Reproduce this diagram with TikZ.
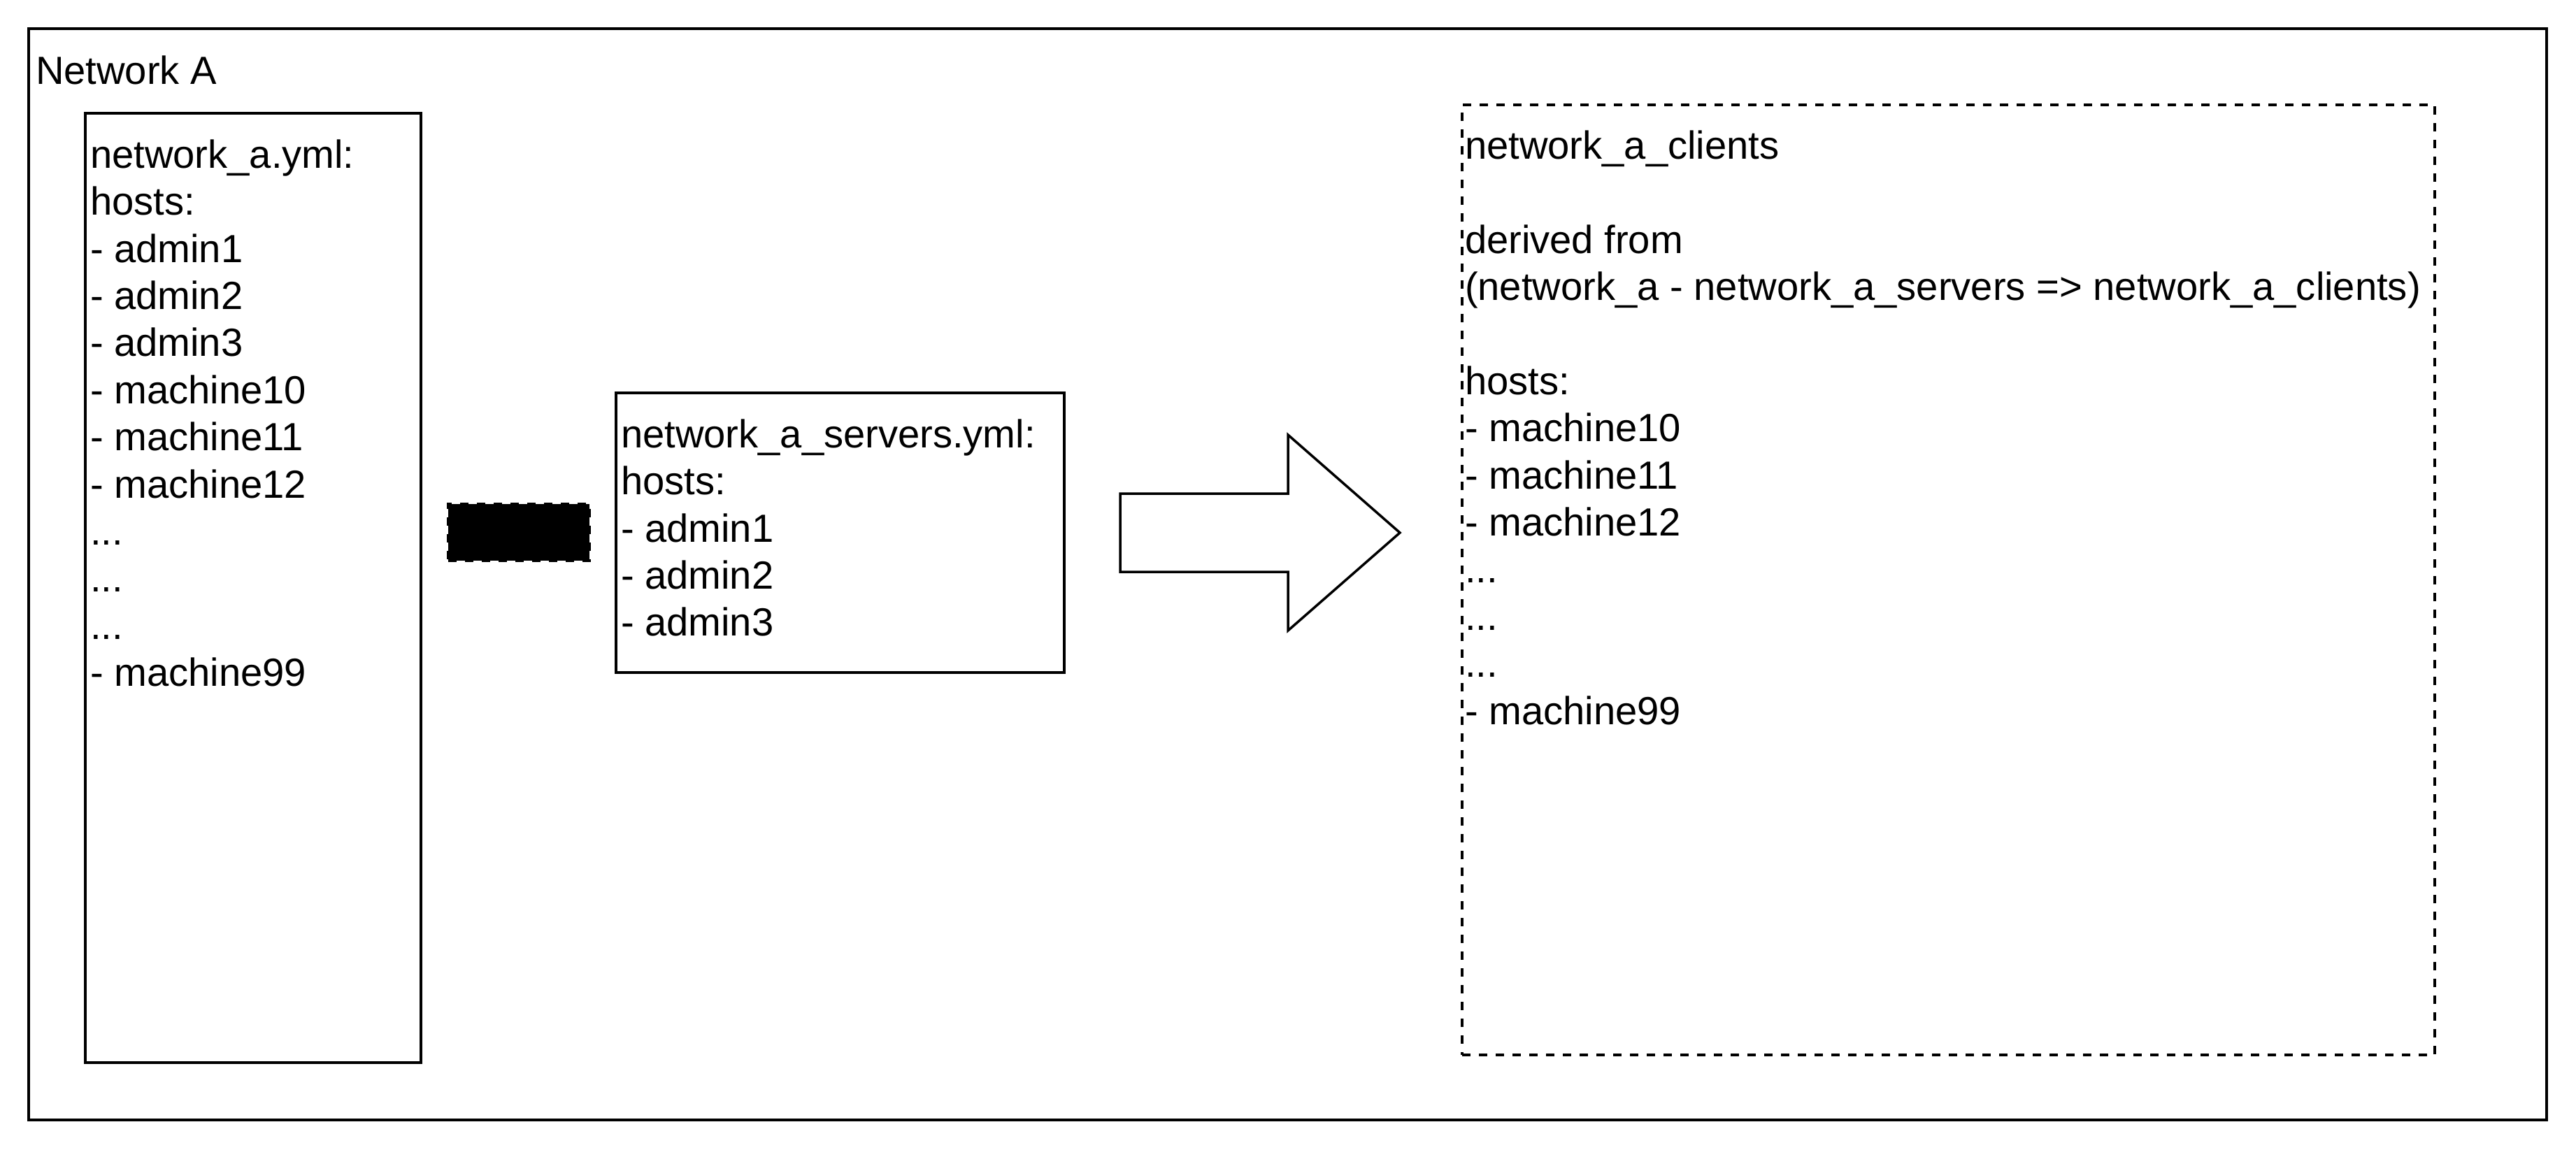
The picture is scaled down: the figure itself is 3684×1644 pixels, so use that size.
\documentclass[tikz,border=0pt]{standalone}
\usepackage{fontspec}
\setmainfont{Liberation Sans}
\begin{document}
\begin{tikzpicture}[x=0.2pt,y=-0.2pt,
  frame/.style={draw=black, line width=0.7pt, anchor=north west, inner sep=0pt, outer sep=0pt},
  dashframe/.style={frame, dash pattern=on 2.4pt off 2.4pt},
  listing/.style={anchor=north west, inner sep=0pt, outer sep=0pt, align=left,
    font=\fontsize{11.23}{13.48}\selectfont},
  blockarrow/.style={draw=black, line width=0.7pt, fill=white, line join=miter}
]
% canvas
\useasboundingbox[fill=white] (0,0) rectangle (3684,1644);

% network frame and label
\node[frame, minimum width=720.2pt, minimum height=312.2pt] (netA) at (41,41) {};
\node[listing] (netAlabel) at (51,73) {\strut Network A};

% full host list
\node[frame, minimum width=96pt, minimum height=271.6pt] (allbox) at (122,162) {};
\node[listing] (alltext) at (129,193) {\strut network\_a.yml:\\hosts:\\- admin1\\- admin2\\- admin3\\- machine10\\- machine11\\- machine12\\...\\...\\...\\- machine99};

% minus sign
\node[frame, fill=black, dash pattern=on 2.4pt off 2.4pt, minimum width=40.4pt, minimum height=16.2pt] (minus) at (641,721) {};

% server list
\node[frame, minimum width=128.2pt, minimum height=80pt] (srvbox) at (881,562) {};
\node[listing] (srvtext) at (888,593) {\strut network\_a\_servers.yml:\\hosts:\\- admin1\\- admin2\\- admin3};

% result arrow
\draw[blockarrow] (1602,706) -- (1842,706) -- (1842,622) -- (2002,762)
  -- (1842,902) -- (1842,818) -- (1602,818) -- cycle;

% derived client list
\node[dashframe, minimum width=278.2pt, minimum height=271.8pt] (clibox) at (2091,150) {};
\node[listing] (clitext) at (2095,180) {\strut network\_a\_clients\\\strut\\derived from\\(network\_a - network\_a\_servers => network\_a\_clients)\\\strut\\hosts:\\- machine10\\- machine11\\- machine12\\...\\...\\...\\- machine99};
\end{tikzpicture}
\end{document}
